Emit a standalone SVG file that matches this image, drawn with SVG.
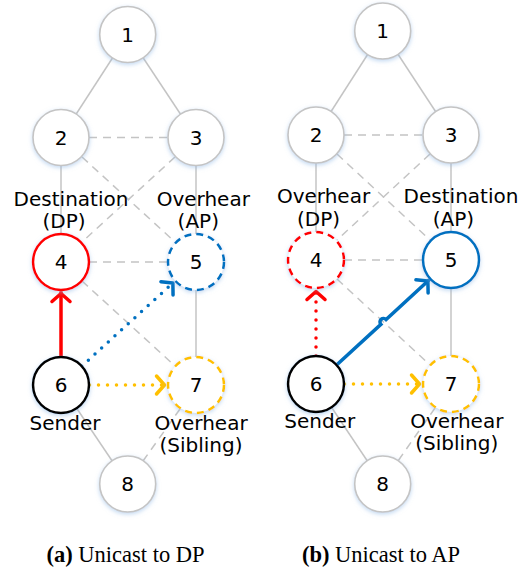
<svg xmlns="http://www.w3.org/2000/svg" width="532" height="570" viewBox="0 0 532 570">
<style>
.e{stroke:#c4c4c4;stroke-width:1.5;fill:none}
.d{stroke-dasharray:8 6}
.n{fill:#fff;stroke:#c4c4c4;stroke-width:1.6;filter:url(#glow)}
.t{font-family:"DejaVu Sans",sans-serif;font-size:20px;fill:#000;text-anchor:middle}
.cap{font-family:"Liberation Serif",serif;font-size:22.5px;fill:#000;text-anchor:middle}
.red{stroke:#ff0000}
.blue{stroke:#0070c0}
.yel{stroke:#ffc000}
.dot{stroke-width:3.5;stroke-dasharray:0 9;stroke-linecap:round;fill:none}
.sol{stroke-width:3.5;fill:none;stroke-linecap:round}
.dc{stroke-dasharray:7 5}
</style>
<defs>
<filter id="glow" x="-40%" y="-40%" width="180%" height="180%">
<feDropShadow dx="0" dy="1.5" stdDeviation="2" flood-color="#8fb8e6" flood-opacity="0.55"/>
</filter>
<marker id="ar" markerUnits="userSpaceOnUse" viewBox="-12 -12 24 24" markerWidth="24" markerHeight="24" refX="1.5" refY="0" orient="auto"><path d="M-8,-9 L0,0 L-8,9" fill="none" stroke="#ff0000" stroke-width="3.5" stroke-linecap="round" stroke-linejoin="round"/></marker>
<marker id="ab" markerUnits="userSpaceOnUse" viewBox="-12 -12 24 24" markerWidth="24" markerHeight="24" refX="1.5" refY="0" orient="auto"><path d="M-8,-9 L0,0 L-8,9" fill="none" stroke="#0070c0" stroke-width="3.5" stroke-linecap="round" stroke-linejoin="round"/></marker>
<marker id="ay" markerUnits="userSpaceOnUse" viewBox="-12 -12 24 24" markerWidth="24" markerHeight="24" refX="1.5" refY="0" orient="auto"><path d="M-8,-9 L0,0 L-8,9" fill="none" stroke="#ffc000" stroke-width="3.5" stroke-linecap="round" stroke-linejoin="round"/></marker>
</defs>
<rect width="532" height="570" fill="#fff"/>

<g id="connectors">
<!-- left panel -->
<line class="e" x1="127.7" y1="34.5" x2="61" y2="137.5"/>
<line class="e" x1="127.7" y1="34.5" x2="196" y2="137.5"/>
<line class="e d" x1="89" y1="137.5" x2="168" y2="137.5"/>
<line class="e" x1="61" y1="137.5" x2="61" y2="262"/>
<line class="e" x1="196" y1="137.5" x2="196" y2="262"/>
<line class="e d" x1="82" y1="157" x2="175" y2="242"/>
<line class="e d" x1="175" y1="157" x2="82" y2="242"/>
<line class="e d" x1="89" y1="262" x2="168" y2="262"/>
<line class="e d" x1="82" y1="281" x2="175" y2="366"/>
<line class="e" x1="196" y1="262" x2="196" y2="385"/>
<line class="e" x1="61" y1="385" x2="127.7" y2="484"/>
<line class="e d" x1="180" y1="409" x2="143" y2="461"/>
<line class="sol red" x1="61" y1="356.5" x2="61" y2="292" marker-end="url(#ar)"/>
<line class="dot blue" x1="81.7" y1="366.2" x2="174" y2="282" marker-end="url(#ab)"/>
<line class="dot yel" x1="89.5" y1="385" x2="166" y2="385" marker-end="url(#ay)"/>
<!-- right panel -->
<line class="e" x1="382.7" y1="31" x2="316" y2="135"/>
<line class="e" x1="382.7" y1="31" x2="451" y2="135"/>
<line class="e d" x1="344" y1="135" x2="423" y2="135"/>
<line class="e" x1="316" y1="135" x2="316" y2="260"/>
<line class="e" x1="451" y1="135" x2="451" y2="260"/>
<line class="e d" x1="337" y1="154" x2="430" y2="240"/>
<line class="e d" x1="430" y1="154" x2="337" y2="240"/>
<line class="e d" x1="344" y1="260" x2="423" y2="260"/>
<line class="e d" x1="337" y1="279" x2="430" y2="365"/>
<line class="e" x1="451" y1="260" x2="451" y2="384"/>
<line class="e" x1="316" y1="384" x2="382.7" y2="484"/>
<line class="e d" x1="435" y1="408" x2="398" y2="461"/>
<line class="dot red" x1="316" y1="356" x2="316" y2="290" marker-end="url(#ar)"/>
<path class="sol blue" d="M336.6,365 L380.9,324.4 A3.5,3.5 0 0 1 386.1,319.6 L429,280" marker-end="url(#ab)"/>
<line class="dot yel" x1="344.5" y1="384" x2="421" y2="384" marker-end="url(#ay)"/>
</g>

<g id="a-node1"><circle class="n" cx="127.7" cy="34.5" r="28"/><text class="t" x="127.7" y="41.8">1</text></g>
<g id="a-node2"><circle class="n" cx="61" cy="137.5" r="28"/><text class="t" x="61" y="144.8">2</text></g>
<g id="a-node3"><circle class="n" cx="196" cy="137.5" r="28"/><text class="t" x="196" y="144.8">3</text></g>
<g id="a-node4"><circle class="n" style="stroke:#ff0000;stroke-width:2.5" cx="61" cy="262" r="28"/><text class="t" x="61" y="269.3">4</text></g>
<g id="a-node5"><circle class="n dc" style="stroke:#0070c0;stroke-width:2.5" cx="196" cy="262" r="28"/><text class="t" x="196" y="269.3">5</text></g>
<g id="a-node6"><circle class="n" style="stroke:#000;stroke-width:2.5" cx="61" cy="385" r="28"/><text class="t" x="61" y="392.3">6</text></g>
<g id="a-node7"><circle class="n dc" style="stroke:#ffc000;stroke-width:2.5" cx="196" cy="385" r="28"/><text class="t" x="196" y="392.3">7</text></g>
<g id="a-node8"><circle class="n" cx="127.7" cy="484" r="28"/><text class="t" x="127.7" y="491.3">8</text></g>

<g id="b-node1"><circle class="n" cx="382.7" cy="31" r="28"/><text class="t" x="382.7" y="38.3">1</text></g>
<g id="b-node2"><circle class="n" cx="316" cy="135" r="28"/><text class="t" x="316" y="142.3">2</text></g>
<g id="b-node3"><circle class="n" cx="451" cy="135" r="28"/><text class="t" x="451" y="142.3">3</text></g>
<g id="b-node4"><circle class="n dc" style="stroke:#ff0000;stroke-width:2.5" cx="316" cy="260" r="28"/><text class="t" x="316" y="267.3">4</text></g>
<g id="b-node5"><circle class="n" style="stroke:#0070c0;stroke-width:2.5" cx="451" cy="260" r="28"/><text class="t" x="451" y="267.3">5</text></g>
<g id="b-node6"><circle class="n" style="stroke:#000;stroke-width:2.5" cx="316" cy="384" r="28"/><text class="t" x="316" y="391.3">6</text></g>
<g id="b-node7"><circle class="n dc" style="stroke:#ffc000;stroke-width:2.5" cx="451" cy="384" r="28"/><text class="t" x="451" y="391.3">7</text></g>
<g id="b-node8"><circle class="n" cx="382.7" cy="484" r="28"/><text class="t" x="382.7" y="491.3">8</text></g>

<g id="labels">
<text class="t" x="71" y="205.5">Destination</text>
<text class="t" x="64" y="228">(DP)</text>
<text class="t" x="203.3" y="205.5">Overhear</text>
<text class="t" x="198.3" y="228">(AP)</text>
<text class="t" x="65" y="430">Sender</text>
<text class="t" x="201" y="430">Overhear</text>
<text class="t" x="201" y="452">(Sibling)</text>
<text class="t" x="323.5" y="203">Overhear</text>
<text class="t" x="318.5" y="225.5">(DP)</text>
<text class="t" x="461" y="203">Destination</text>
<text class="t" x="453.5" y="225.5">(AP)</text>
<text class="t" x="319.7" y="428">Sender</text>
<text class="t" x="456.8" y="428">Overhear</text>
<text class="t" x="456.7" y="450">(Sibling)</text>
<text class="cap" x="125.5" y="562"><tspan font-weight="bold">(a)</tspan> Unicast to DP</text>
<text class="cap" x="381" y="562"><tspan font-weight="bold">(b)</tspan> Unicast to AP</text>
</g>
</svg>
